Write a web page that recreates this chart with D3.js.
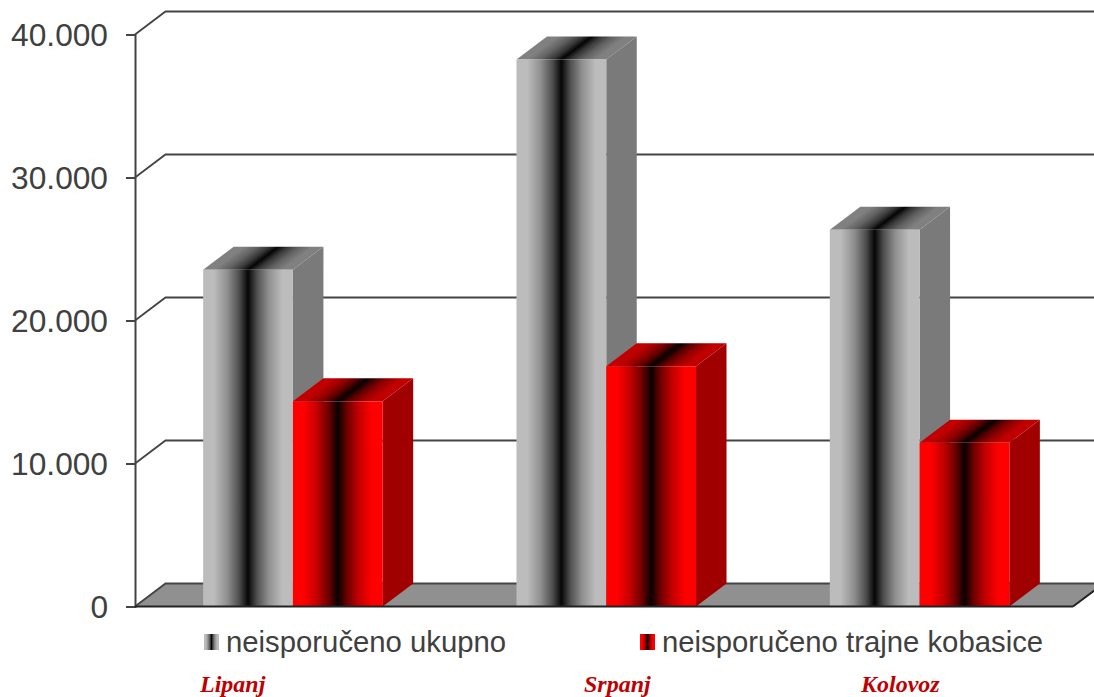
<!DOCTYPE html>
<html>
<head>
<meta charset="utf-8">
<script src="https://cdn.jsdelivr.net/npm/d3@7"></script>
<style>
  body { margin: 0; background: #fff; overflow: hidden; }
  svg { display: block; }
</style>
</head>
<body>
<div id="chart"></div>
<script>
const months = ["Lipanj", "Srpanj", "Kolovoz"];
const seriesNames = ["neisporučeno ukupno", "neisporučeno trajne kobasice"];
const ukupno = [23550, 38250, 26350];
const kobasice = [14350, 16800, 11450];
const yTicks = [0, 10000, 20000, 30000, 40000];

const width = 1094;
const height = 697;
const depthX = 30.5;
const depthY = 23;
const axisX = 135;
const axisEnd = 1073;

const svg = d3
  .select("#chart")
  .append("svg")
  .attr("width", width)
  .attr("height", height);

const defs = svg.append("defs");

// 1. gradients, dark band in the middle of each face
function addGradient(id, edge) {
  const g = defs.append("linearGradient").attr("id", id);
  const shade = d3.interpolateRgb("#000", edge);
  [
    [0, 1],
    [0.12, 1],
    [0.27, 0.76],
    [0.4, 0.42],
    [0.5, 0.03],
    [0.6, 0.42],
    [0.73, 0.76],
    [0.88, 1],
    [1, 1],
  ].forEach((s) => {
    g.append("stop").attr("offset", s[0]).attr("stop-color", shade(s[1]));
  });
}
addGradient("grayFront", "#bcbcbc");
addGradient("grayTop", "#808080");
addGradient("redFront", "#ff0000");
addGradient("redTop", "#c00000");

const styles = [
  { front: "url(#grayFront)", top: "url(#grayTop)", side: "#7a7a7a" },
  { front: "url(#redFront)", top: "url(#redTop)", side: "#a00000" },
];

// 2. scales
const y = d3.scaleLinear().domain([0, 40000]).range([606.5, 34.5]);

const x0 = d3
  .scaleBand()
  .domain(months)
  .range([136.25, 1076.25])
  .paddingInner(0.427)
  .paddingOuter(0.2135);

const x1 = d3
  .scaleBand()
  .domain(seriesNames)
  .range([0, x0.bandwidth()]);

const formatDots = d3.formatLocale({
  decimal: ",",
  thousands: ".",
  grouping: [3],
  currency: ["", ""],
}).format(",d");

// 3. floor and grid walls
svg
  .append("polygon")
  .attr(
    "points",
    [
      [axisX, y(0)],
      [axisX + depthX, y(0) - depthY],
      [axisEnd + depthX, y(0) - depthY],
      [axisEnd, y(0)],
    ].join(" ")
  )
  .attr("fill", "#909090");

svg
  .append("g")
  .selectAll("path")
  .data(yTicks)
  .enter()
  .append("path")
  .attr(
    "d",
    (d) =>
      `M${axisX},${y(d)}L${axisX + depthX},${y(d) - depthY}L${axisEnd + depthX},${y(d) - depthY}`
  )
  .attr("fill", "none")
  .attr("stroke", "#444")
  .attr("stroke-width", 1.8);

// 4. bars
function drawBar(g, left, w, value, style) {
  const top = y(value);
  const bottom = y(0);

  g.append("polygon")
    .attr(
      "points",
      [
        [left + w, top],
        [left + w + depthX, top - depthY],
        [left + w + depthX, bottom - depthY],
        [left + w, bottom],
      ].join(" ")
    )
    .attr("fill", style.side);

  g.append("rect")
    .attr("width", w)
    .attr("height", depthY)
    .attr("y", -depthY)
    .attr("transform", `matrix(1,0,${-depthX / depthY},1,${left},${top})`)
    .attr("fill", style.top);

  g.append("rect")
    .attr("x", left)
    .attr("y", top)
    .attr("width", w)
    .attr("height", bottom - top)
    .attr("fill", style.front);
}

const bars = svg.append("g");
months.forEach((m, i) => {
  [ukupno, kobasice].forEach((values, s) => {
    drawBar(
      bars,
      x0(m) + x1(seriesNames[s]),
      x1.bandwidth(),
      values[i],
      styles[s]
    );
  });
});

// 5. axes
const yAxis = svg
  .append("g")
  .attr("transform", `translate(${axisX},0)`)
  .call(
    d3
      .axisLeft(y)
      .tickValues(yTicks)
      .tickSize(9)
      .tickPadding(18)
      .tickFormat((d) => (d === 0 ? "0" : formatDots(d)))
  );

yAxis.select(".domain").attr("stroke", "#444").attr("stroke-width", 2);
yAxis.selectAll(".tick line").attr("stroke", "#444").attr("stroke-width", 2);
yAxis
  .selectAll(".tick text")
  .attr("y", 1)
  .attr("fill", "#404040")
  .attr("font-family", "'Liberation Sans', Arial, sans-serif")
  .attr("font-size", "31.7px");

svg
  .append("line")
  .attr("x1", axisX)
  .attr("x2", axisEnd)
  .attr("y1", y(0))
  .attr("y2", y(0))
  .attr("stroke", "#222")
  .attr("stroke-width", 2.2);

svg
  .append("line")
  .attr("x1", axisEnd)
  .attr("x2", axisEnd + depthX)
  .attr("y1", y(0))
  .attr("y2", y(0) - depthY)
  .attr("stroke", "#222")
  .attr("stroke-width", 2);

// 6. legend
const legendX = [204, 640];
const legend = svg
  .append("g")
  .selectAll("g")
  .data(seriesNames)
  .enter()
  .append("g")
  .attr("transform", (d, i) => `translate(${legendX[i]},634)`);

legend
  .append("rect")
  .attr("width", 15)
  .attr("height", 16)
  .attr("fill", (d, i) => styles[i].front);

legend
  .append("text")
  .attr("x", 22)
  .attr("y", 18)
  .attr("font-family", "'Liberation Sans', Arial, sans-serif")
  .attr("font-size", "29.3px")
  .attr("fill", "#404040")
  .text((d) => d);

// 7. month names under the legend
const monthX = [200, 584, 861];
svg
  .append("g")
  .selectAll("text")
  .data(months)
  .enter()
  .append("text")
  .attr("x", (d, i) => monthX[i])
  .attr("y", 691.5)
  .attr("font-family", "'Liberation Serif', 'Times New Roman', serif")
  .attr("font-size", "24px")
  .attr("font-weight", "bold")
  .attr("font-style", "italic")
  .attr("fill", "#c00000")
  .text((d) => d);
</script>
</body>
</html>
